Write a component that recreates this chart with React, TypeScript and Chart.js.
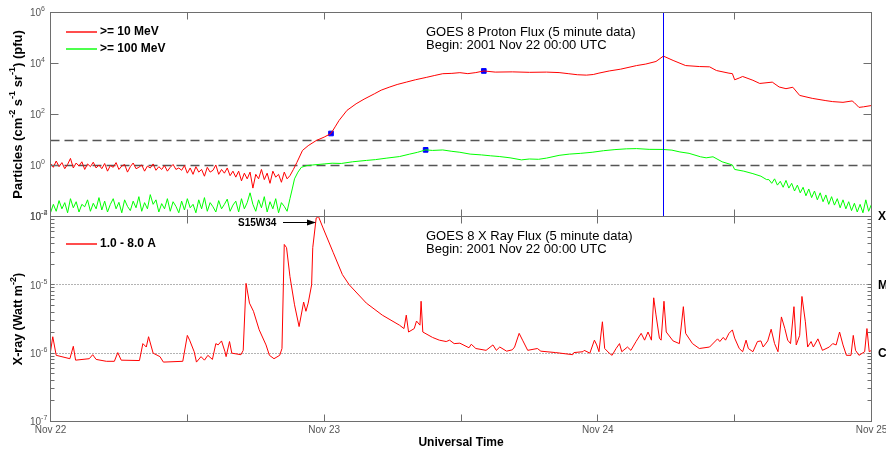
import React, { useEffect, useRef } from "react";
import { Chart, registerables } from "chart.js";

Chart.register(...registerables);

const FONT = '"Liberation Sans", Arial, Helvetica, sans-serif';

// ---------- axes / labels ----------
const TOTAL_HOURS = 72;
const TICK_STEP_HOURS = 12;
const dayLabels = ["Nov 22", "Nov 23", "Nov 24", "Nov 25"];
const protonTickExponents = [-2, 0, 2, 4, 6];
const xrayTickExponents = [-7, -6, -5, -4];
const flareClassLabels = ["X", "M", "C"];
const flareClassLevels = [1e-4, 1e-5, 1e-6];
const protonAlertLevels = [10, 1];
const xrayClassLines = [1e-5, 1e-6];
const peakTimeHours = 53.75;
const flareLabel = "S15W34";
const protonTitle = ["GOES 8 Proton Flux (5 minute data)", "Begin: 2001 Nov 22 00:00 UTC"];
const xrayTitle = ["GOES 8 X Ray Flux (5 minute data)", "Begin: 2001 Nov 22 00:00 UTC"];
const protonLegend = [">= 10 MeV", ">= 100 MeV"];
const xrayLegend = "1.0 - 8.0 A";

// ---------- proton >= 10 MeV (pfu) ----------
const quietStepHours = 0.25; // quiet-time samples from 00:00 every 15 min
const p10Quiet = [
  1.2, 0.85, 1.5, 0.9, 1.3, 0.75, 1.1, 1.9, 0.8, 1.25, 0.95, 1.4, 0.7, 1.15, 0.9, 1.35, 0.8, 1.05,
  0.75, 1.2, 0.6, 1.0, 0.85, 1.3, 0.7, 0.95, 1.1, 0.55, 0.9, 1.25, 0.75, 0.85, 1.05, 0.6, 0.95, 0.8,
  1.15, 0.65, 0.9, 0.7, 1.0, 0.6, 0.85, 1.1, 0.7, 0.8,
  0.65, 1.0, 0.5, 0.8, 0.45, 0.9, 0.55, 0.7, 0.38, 0.85, 0.55, 0.65, 1.05, 0.45, 0.7, 0.5, 0.8, 0.4, 0.6,
  0.35, 0.6, 0.25, 0.5, 0.3, 0.55, 0.13, 0.45, 0.3, 0.7, 0.28, 0.5, 0.2, 0.6, 0.35, 0.45, 0.22, 0.55, 0.3,
];
const p10EventHours = [
  21.0, 21.3, 21.6, 22.1, 22.6, 23.3, 24.0, 24.6, 25.0, 25.3,
  26.0, 26.8, 27.5, 28.4, 29.0, 29.7, 30.4, 31.2, 32.0, 33.0,
  33.7, 34.4, 35.2, 35.9, 36.6, 37.3, 38.0, 39.0, 40.5, 42.0,
  43.5, 44.6, 45.4, 46.2, 47.0, 47.6, 48.1, 49.0, 50.0, 51.4,
  52.2, 53.1, 53.75, 54.6, 55.7, 56.9, 57.8, 58.4, 59.5, 59.8,
  60.0, 60.4, 60.7, 61.6, 62.2, 63.3, 63.9, 64.5, 65.1, 65.7,
  66.8, 68.0, 68.6, 69.5, 70.3, 70.5, 70.9, 71.3, 72.0,
];
const p10Event = [
  0.4, 0.7, 1.3, 3.9, 6.0, 9.5, 13, 18, 35, 58,
  145, 263, 400, 646, 900, 1175, 1500, 1860, 2300, 2880,
  3400, 3980, 4100, 4370, 4000, 4400, 5100, 4600, 4700, 4500,
  4600, 4400, 4000, 3630, 3500, 3700, 4200, 5100, 6000, 8300,
  9500, 12000, 19500, 13200, 8300, 7600, 7400, 5300, 4170, 4000,
  2300, 2700, 3100, 2200, 1650, 1860, 1200, 1030, 1170, 560,
  430, 350, 320, 300, 340, 290, 190, 200, 225,
];

// ---------- proton >= 100 MeV (pfu) ----------
const p100Quiet = [
  0.014, 0.03, 0.016, 0.042, 0.02, 0.035, 0.014, 0.05, 0.022, 0.038, 0.015, 0.03, 0.024, 0.045, 0.016, 0.033, 0.02, 0.055,
  0.018, 0.04, 0.015, 0.03, 0.05, 0.02, 0.036, 0.014, 0.045, 0.025, 0.017, 0.04, 0.022, 0.06, 0.016, 0.035, 0.02, 0.072,
  0.03, 0.045, 0.015, 0.032, 0.02, 0.05, 0.016, 0.038, 0.025, 0.014,
  0.04, 0.018, 0.05, 0.022, 0.03, 0.014, 0.045, 0.02, 0.055, 0.016, 0.035, 0.024, 0.015, 0.042, 0.02, 0.03, 0.048, 0.016, 0.028,
  0.04, 0.015, 0.05, 0.02, 0.035, 0.085, 0.03, 0.016, 0.045, 0.022, 0.06, 0.015, 0.038, 0.02, 0.05, 0.014, 0.035, 0.025, 0.016,
];
const p100EventHours = [
  21.0, 21.2, 21.4, 21.7, 22.0, 22.5, 23.0, 24.0, 24.7, 25.5,
  26.5, 27.7, 28.5, 29.5, 30.6, 31.5, 32.2, 32.9, 33.5, 34.4,
  35.2, 35.9, 36.8, 37.8, 38.6, 39.4, 40.3, 41.3, 42.0, 42.8,
  43.5, 44.6, 45.5, 46.5, 47.5, 48.5, 49.5, 50.5, 51.4, 52.5,
  53.7, 54.5, 55.2, 56.0, 57.0, 57.5, 58.1, 58.9, 59.8, 60.0,
  60.8, 61.6, 62.3, 62.8,
];
const p100Event = [
  0.05, 0.12, 0.3, 0.55, 0.85, 1.0, 1.05, 1.15, 1.23, 1.2,
  1.4, 1.58, 1.7, 1.95, 2.24, 2.8, 3.3, 4.1, 3.9, 4.07,
  3.6, 3.3, 2.8, 2.6, 2.4, 2.24, 2.0, 1.66, 1.8, 1.75,
  1.95, 2.5, 2.8, 3.0, 3.3, 3.8, 4.2, 4.5, 4.6, 4.3,
  4.27, 4.0, 3.4, 3.0, 2.2, 2.0, 2.2, 1.4, 1.05, 0.7,
  0.6, 0.48, 0.38, 0.28,
];
const p100DecayStartHours = 63;
const p100Decay = [
  0.28, 0.2, 0.3, 0.17, 0.24, 0.14, 0.26, 0.13, 0.2, 0.1,
  0.17, 0.085, 0.14, 0.065, 0.12, 0.055, 0.1, 0.045, 0.085, 0.038,
  0.07, 0.03, 0.06, 0.028, 0.05, 0.022, 0.045, 0.02, 0.038, 0.017,
  0.033, 0.015, 0.03, 0.014, 0.045, 0.016, 0.03,
];
const p10MarkerHours = [24.6, 38.0];
const p10MarkerValues = [18, 5100];
const p100MarkerHours = [32.9];
const p100MarkerValues = [4.1];

// ---------- X-ray 1.0 - 8.0 A (W m^-2) ----------
const xrayHours = [
  0, 0.2, 0.5, 1.7, 2.0, 2.2, 3.4, 3.7, 4.0, 4.9,
  5.6, 5.9, 6.2, 7.8, 8.1, 8.4, 8.6, 9.0, 9.6, 9.9,
  11.6, 12.0, 12.2, 12.6, 12.8, 13.2, 13.5, 13.8, 14.2, 14.5,
  14.7, 15.0, 15.3, 15.4, 15.7, 15.9, 16.7, 16.9, 17.15, 17.45,
  17.8, 18.3, 18.9, 19.2, 19.6, 20.1, 20.3, 20.5, 20.7, 21.0,
  21.4, 21.8, 22.2, 22.4, 22.6, 22.9, 23.0, 23.3, 23.5, 23.9,
  24.8, 25.6, 26.2, 27.7, 29.1, 30.6, 31.0, 31.2, 31.4, 31.9,
  32.1, 32.4, 32.5, 32.65, 33.5, 34.1, 34.7, 35.0, 35.4, 35.9,
  36.7, 36.9, 37.3, 38.2, 38.8, 39.1, 39.4, 40.0, 40.5, 40.7,
  41.1, 41.4, 41.85, 42.7, 43.0, 44.3, 45.8, 45.9, 46.7, 46.8,
  47.05, 47.3, 47.7, 47.9, 48.1, 48.4, 48.6, 49.0, 49.25, 49.6,
  49.9, 50.1, 50.6, 50.9, 51.35, 51.8, 52.1, 52.4, 52.7, 52.9,
  53.1, 53.4, 53.55, 53.8, 54.0, 54.6, 55.15, 55.5, 55.7, 56.3,
  56.9, 57.8, 58.5, 58.7, 59.0, 59.2, 59.5, 59.8, 60.0, 60.4,
  60.7, 61.0, 61.2, 61.6, 62.0, 62.3, 62.5, 62.9, 63.2, 63.5,
  63.8, 64.1, 64.4, 64.65, 64.9, 65.2, 65.4, 65.7, 65.9, 66.2,
  66.4, 66.7, 66.9, 67.3, 67.7, 68.3, 68.6, 68.9, 69.2, 69.5,
  69.8, 70.2, 70.4, 70.6, 70.9, 71.4, 71.6, 71.8, 72.0,
];
const xrayFlux = [
  1.05e-6, 1.74e-6, 9.3e-7, 8.3e-7, 1.26e-6, 7.9e-7, 8.3e-7, 9.5e-7, 8.1e-7, 7.6e-7,
  7.6e-7, 1.02e-6, 7.9e-7, 7.8e-7, 1.38e-6, 1.23e-6, 1.74e-6, 1.0e-6, 8.9e-7, 7.4e-7,
  7.6e-7, 1.82e-6, 1.55e-6, 1.05e-6, 7.4e-7, 8.9e-7, 7.9e-7, 9.3e-7, 8.1e-7, 1.38e-6,
  1.32e-6, 1.51e-6, 1.05e-6, 8.9e-7, 1.48e-6, 1.0e-6, 9.5e-7, 1.1e-6, 1.05e-5, 5.4e-6,
  4.1e-6, 2.2e-6, 1.32e-6, 9.3e-7, 8.3e-7, 9.3e-7, 1.17e-6, 3.9e-5, 3.5e-5, 1.32e-5,
  5.1e-6, 2.45e-6, 5.6e-6, 4.1e-6, 5.4e-6, 1.0e-5, 3.5e-5, 9.5e-5, 1.0e-4, 6.8e-5,
  2.95e-5, 1.41e-5, 1.0e-5, 5.4e-6, 3.6e-6, 2.57e-6, 2.29e-6, 3.6e-6, 2.04e-6, 2.29e-6,
  2.95e-6, 2.57e-6, 5.75e-6, 2.04e-6, 1.7e-6, 1.55e-6, 1.48e-6, 1.55e-6, 1.38e-6, 1.4e-6,
  1.2e-6, 1.35e-6, 1.17e-6, 1.1e-6, 1.32e-6, 1.1e-6, 1.23e-6, 1.07e-6, 1.12e-6, 1.23e-6,
  1.95e-6, 1.55e-6, 1.1e-6, 1.17e-6, 1.07e-6, 1.02e-6, 9.5e-7, 1.02e-6, 1.05e-6, 1.1e-6,
  1.05e-6, 1.0e-6, 1.55e-6, 1.32e-6, 1.05e-6, 2.88e-6, 1.17e-6, 1.0e-6, 9.3e-7, 1.17e-6,
  1.38e-6, 1.05e-6, 1.23e-6, 1.1e-6, 1.48e-6, 1.95e-6, 1.55e-6, 2.04e-6, 1.55e-6, 6.46e-6,
  3.63e-6, 1.66e-6, 1.55e-6, 5.75e-6, 2.04e-6, 1.51e-6, 1.38e-6, 4.79e-6, 1.95e-6, 1.38e-6,
  1.17e-6, 1.23e-6, 1.62e-6, 1.48e-6, 1.7e-6, 1.55e-6, 1.95e-6, 2.19e-6, 1.66e-6, 1.17e-6,
  1.05e-6, 1.55e-6, 1.17e-6, 1.05e-6, 1.48e-6, 1.51e-6, 1.23e-6, 1.51e-6, 2.24e-6, 1.38e-6,
  1.05e-6, 3.39e-6, 2.29e-6, 1.55e-6, 1.38e-6, 4.79e-6, 1.32e-6, 1.82e-6, 6.76e-6, 2.88e-6,
  1.23e-6, 1.48e-6, 1.23e-6, 1.62e-6, 1.1e-6, 1.23e-6, 1.38e-6, 1.32e-6, 2.04e-6, 1.32e-6,
  9.3e-7, 9.3e-7, 1.82e-6, 1.1e-6, 9.3e-7, 1.05e-6, 2.29e-6, 1.05e-6, 1.1e-6,
];

// ---------- build point lists ----------
type Pt = { x: number; y: number };
const stepPoints = (vals: number[], start: number, step: number): Pt[] =>
  vals.map((v, i) => ({ x: start + i * step, y: v }));
const pairPoints = (hours: number[], vals: number[]): Pt[] =>
  hours.map((h, i) => ({ x: h, y: vals[i] }));

const p10Points = [...stepPoints(p10Quiet, 0, quietStepHours), ...pairPoints(p10EventHours, p10Event)];
const p100Points = [
  ...stepPoints(p100Quiet, 0, quietStepHours),
  ...pairPoints(p100EventHours, p100Event),
  ...stepPoints(p100Decay, p100DecayStartHours, quietStepHours),
];
const markerPoints = [...pairPoints(p10MarkerHours, p10MarkerValues), ...pairPoints(p100MarkerHours, p100MarkerValues)];
const xrayPoints = pairPoints(xrayHours, xrayFlux);

// ---------- drawing helpers ----------
type Seg = { t: string; sup?: boolean };
const snap = (v: number) => Math.round(v - 0.5) + 0.5;

function drawRich(ctx: CanvasRenderingContext2D, segs: Seg[], x: number, y: number, size: number, bold: boolean, align: "left" | "center", supSize?: number, supRaise?: number) {
  const w = bold ? "bold " : "";
  const base = `${w}${size}px ${FONT}`;
  const ss = supSize ?? Math.round(size * 0.68);
  const sup = `${w}${ss}px ${FONT}`;
  const raise = supRaise ?? size * 0.38;
  let total = 0;
  for (const s of segs) {
    ctx.font = s.sup ? sup : base;
    total += ctx.measureText(s.t).width;
  }
  let cx = align === "center" ? x - total / 2 : x;
  ctx.textBaseline = "middle";
  ctx.textAlign = "left";
  for (const s of segs) {
    ctx.font = s.sup ? sup : base;
    ctx.fillText(s.t, cx, s.sup ? y - raise : y);
    cx += ctx.measureText(s.t).width;
  }
}

function drawFrame(chart: any, yMajor: number[], yMinor: number[], yLen: number, yMinorLen: number) {
  const { ctx, chartArea: a, scales } = chart;
  const xs = scales.x;
  const ys = scales.y;
  const xLen = 7;
  ctx.save();
  ctx.strokeStyle = "#6e6e6e";
  ctx.lineWidth = 1;
  ctx.setLineDash([]);
  ctx.beginPath();
  for (let h = 0; h <= TOTAL_HOURS; h += TICK_STEP_HOURS) {
    const px = snap(xs.getPixelForValue(h));
    ctx.moveTo(px, a.top);
    ctx.lineTo(px, a.top + xLen);
    ctx.moveTo(px, a.bottom);
    ctx.lineTo(px, a.bottom - xLen);
  }
  for (const v of yMajor) {
    const py = snap(ys.getPixelForValue(v));
    ctx.moveTo(a.left, py);
    ctx.lineTo(a.left + yLen, py);
    ctx.moveTo(a.right, py);
    ctx.lineTo(a.right - yLen, py);
  }
  for (const v of yMinor) {
    const py = snap(ys.getPixelForValue(v));
    ctx.moveTo(a.left, py);
    ctx.lineTo(a.left + yMinorLen, py);
    ctx.moveTo(a.right, py);
    ctx.lineTo(a.right - yMinorLen, py);
  }
  ctx.stroke();
  ctx.strokeRect(a.left, a.top, a.right - a.left, a.bottom - a.top);
  ctx.restore();
}

function drawExpLabels(chart: any, exps: number[]) {
  const { ctx, scales } = chart;
  ctx.save();
  ctx.fillStyle = "#555";
  for (const e of exps) {
    const py = scales.y.getPixelForValue(Math.pow(10, e));
    drawRich(ctx, [{ t: "10" }, { t: String(e), sup: true }], 30, py + 1, 10, false, "left", 7, 4);
  }
  ctx.restore();
}

function drawHLines(chart: any, levels: number[], color: string, dash: number[], width: number) {
  const { ctx, chartArea: a, scales } = chart;
  ctx.save();
  ctx.strokeStyle = color;
  ctx.lineWidth = width;
  ctx.setLineDash(dash);
  for (const v of levels) {
    const py = snap(scales.y.getPixelForValue(v));
    ctx.beginPath();
    ctx.moveTo(a.left, py);
    ctx.lineTo(a.right, py);
    ctx.stroke();
  }
  ctx.restore();
}

function legendItem(ctx: CanvasRenderingContext2D, color: string, text: string, y: number) {
  ctx.save();
  ctx.strokeStyle = color;
  ctx.lineWidth = 1.4;
  ctx.beginPath();
  ctx.moveTo(66, Math.round(y));
  ctx.lineTo(97, Math.round(y));
  ctx.stroke();
  ctx.fillStyle = "#000";
  ctx.font = `bold 12px ${FONT}`;
  ctx.textBaseline = "middle";
  ctx.textAlign = "left";
  ctx.fillText(text, 100, y);
  ctx.restore();
}

function titleLines(ctx: CanvasRenderingContext2D, lines: string[], y0: number) {
  ctx.save();
  ctx.fillStyle = "#000";
  ctx.font = `13px ${FONT}`;
  ctx.textBaseline = "middle";
  ctx.textAlign = "left";
  lines.forEach((l, i) => ctx.fillText(l, 426, y0 + i * 13.5));
  ctx.restore();
}

const topDeco = {
  id: "topDeco",
  beforeDatasetsDraw(chart: any) {
    drawHLines(chart, protonAlertLevels, "#555", [9, 5], 1.3);
  },
  afterDatasetsDraw(chart: any) {
    const { ctx, chartArea: a, scales } = chart;
    const px = snap(scales.x.getPixelForValue(peakTimeHours));
    ctx.save();
    ctx.strokeStyle = "#0000ff";
    ctx.lineWidth = 1;
    ctx.beginPath();
    ctx.moveTo(px, a.top);
    ctx.lineTo(px, a.bottom);
    ctx.stroke();
    ctx.restore();
  },
  afterDraw(chart: any) {
    const { ctx, chartArea: a } = chart;
    drawFrame(chart, protonTickExponents.map((e) => Math.pow(10, e)), [], 8, 0);
    drawExpLabels(chart, protonTickExponents);
    legendItem(ctx, "#ff0000", protonLegend[0], 31.5);
    legendItem(ctx, "#00ff00", protonLegend[1], 48.5);
    titleLines(ctx, protonTitle, 32);
    ctx.save();
    ctx.fillStyle = "#000";
    ctx.translate(18, (a.top + a.bottom) / 2);
    ctx.rotate(-Math.PI / 2);
    drawRich(
      ctx,
      [{ t: "Particles (cm" }, { t: "-2", sup: true }, { t: " s" }, { t: "-1", sup: true }, { t: " sr" }, { t: "-1", sup: true }, { t: ") (pfu)" }],
      0, 0, 13, true, "center", 9, 5
    );
    ctx.restore();
  },
};

const xrayMinor: number[] = [];
for (const e of [-7, -6, -5]) for (let m = 2; m <= 9; m++) xrayMinor.push(m * Math.pow(10, e));

const bottomDeco = {
  id: "bottomDeco",
  beforeDatasetsDraw(chart: any) {
    drawHLines(chart, xrayClassLines, "#666", [1, 2], 1);
  },
  afterDraw(chart: any) {
    const { ctx, chartArea: a, scales } = chart;
    drawFrame(chart, xrayTickExponents.map((e) => Math.pow(10, e)), xrayMinor, 4, 4);
    drawExpLabels(chart, xrayTickExponents);
    legendItem(ctx, "#ff0000", xrayLegend, a.top + 27);
    titleLines(ctx, xrayTitle, a.top + 19.5);
    // flare class labels on the right
    ctx.save();
    ctx.fillStyle = "#000";
    ctx.font = `bold 12px ${FONT}`;
    ctx.textBaseline = "middle";
    ctx.textAlign = "left";
    flareClassLevels.forEach((v, i) => ctx.fillText(flareClassLabels[i], 878, scales.y.getPixelForValue(v) + 0.5));
    // x tick labels
    ctx.fillStyle = "#555";
    ctx.font = `10px ${FONT}`;
    ctx.textAlign = "center";
    dayLabels.forEach((d, i) => ctx.fillText(d, scales.x.getPixelForValue(i * 24), a.bottom + 9));
    ctx.fillStyle = "#000";
    ctx.font = `bold 12px ${FONT}`;
    ctx.fillText("Universal Time", (a.left + a.right) / 2, a.bottom + 21);
    // flare annotation
    const ay = a.top + 6;
    ctx.font = `bold 10px ${FONT}`;
    ctx.textAlign = "left";
    ctx.fillText(flareLabel, 238, ay + 1);
    ctx.strokeStyle = "#000";
    ctx.lineWidth = 1;
    ctx.beginPath();
    ctx.moveTo(283, ay);
    ctx.lineTo(309, ay);
    ctx.stroke();
    ctx.beginPath();
    ctx.moveTo(316, ay);
    ctx.lineTo(307, ay - 3);
    ctx.lineTo(307, ay + 3);
    ctx.closePath();
    ctx.fill();
    ctx.restore();
    // y title
    ctx.save();
    ctx.fillStyle = "#000";
    ctx.translate(19, (a.top + a.bottom) / 2);
    ctx.rotate(-Math.PI / 2);
    drawRich(ctx, [{ t: "X-ray (Watt m" }, { t: "-2", sup: true }, { t: ")" }], 0, 0, 12.5, true, "center", 9, 5);
    ctx.restore();
  },
};

const lineDs = (data: Pt[], color: string) => ({
  type: "line" as const,
  data,
  borderColor: color,
  backgroundColor: color,
  borderWidth: 1,
  pointRadius: 0,
  tension: 0,
  fill: false,
});

function makeOptions(padding: any, yMin: number, yMax: number) {
  return {
    responsive: false,
    animation: false as const,
    events: [] as any[],
    layout: { padding },
    scales: {
      x: { type: "linear" as const, min: 0, max: TOTAL_HOURS, display: false },
      y: { type: "logarithmic" as const, min: yMin, max: yMax, display: false },
    },
    plugins: { legend: { display: false }, tooltip: { enabled: false } },
  };
}

export default function App() {
  const topRef = useRef<HTMLCanvasElement>(null);
  const botRef = useRef<HTMLCanvasElement>(null);
  useEffect(() => {
    const top = new Chart(topRef.current!, {
      type: "line",
      data: {
        datasets: [
          lineDs(p10Points, "#ff0000"),
          lineDs(p100Points, "#00ff00"),
          {
            type: "line",
            data: markerPoints,
            showLine: false,
            pointStyle: "rect",
            pointRadius: 3.3,
            borderWidth: 1,
            borderColor: "#0000ff",
            backgroundColor: "#0000ff",
          } as any,
        ],
      },
      options: makeOptions({ left: 50.5, right: 14.5, top: 12.5, bottom: 15.5 }, 1e-2, 1e6) as any,
      plugins: [topDeco],
    });
    const bot = new Chart(botRef.current!, {
      type: "line",
      data: { datasets: [lineDs(xrayPoints, "#ff0000")] },
      options: makeOptions({ left: 50.5, right: 14.5, top: 16.5, bottom: 34.5 }, 1e-7, 1e-4) as any,
      plugins: [bottomDeco],
    });
    return () => {
      top.destroy();
      bot.destroy();
    };
  }, []);
  return (
    <div style={{ position: "fixed", left: 0, top: 0, width: 886, height: 456, background: "#fff", overflow: "hidden" }}>
      <canvas ref={topRef} width={886} height={232} style={{ position: "absolute", left: 0, top: 0, width: 886, height: 232 }} />
      <canvas ref={botRef} width={886} height={256} style={{ position: "absolute", left: 0, top: 200, width: 886, height: 256 }} />
    </div>
  );
}
